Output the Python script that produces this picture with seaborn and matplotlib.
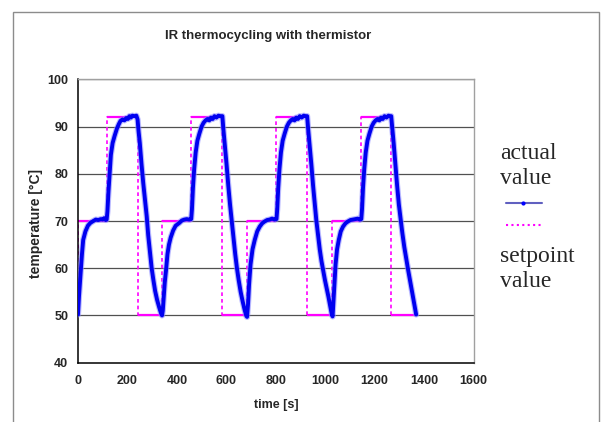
import numpy as np
import pandas as pd
import matplotlib
matplotlib.use("Agg")
import matplotlib.pyplot as plt
from matplotlib.lines import Line2D
from matplotlib.patches import Rectangle
import seaborn as sns

# ---------------- data ----------------
time_s = [0, 4, 11, 16, 21, 30, 40, 50, 62, 72, 82, 92, 100, 106, 112, 116,
          119, 123, 128, 133, 140, 148, 157, 165, 172, 180, 188, 195, 202, 208, 214, 220, 228, 236, 241,
          245, 250, 257, 264, 271, 278, 284, 291, 298, 305, 312, 320, 328, 335, 340,
          343, 347, 351, 356, 362, 368, 375, 385, 395, 410, 420, 430, 440, 450, 458,
          461, 465, 470, 476, 483, 491, 500, 508, 516, 524, 531, 538, 545, 552, 560, 568, 576, 584,
          588, 594, 601, 608, 615, 622, 629, 636, 643, 650, 658, 666, 674, 681, 684,
          688, 692, 698, 706, 715, 725, 735, 745, 755, 765, 775, 785, 795, 803,
          806, 810, 815, 821, 828, 836, 845, 853, 861, 869, 876, 883, 890, 897, 905, 913, 921, 927,
          931, 937, 944, 951, 958, 964, 971, 978, 985, 992, 999, 1006, 1013, 1020, 1026, 1030,
          1033, 1037, 1042, 1048, 1055, 1063, 1072, 1082, 1092, 1102, 1112, 1122, 1132, 1140, 1146,
          1149, 1153, 1158, 1164, 1171, 1179, 1188, 1196, 1204, 1212, 1219, 1226, 1233, 1240, 1248, 1256, 1262, 1267,
          1271, 1277, 1284, 1291, 1298, 1305, 1312, 1320, 1328, 1336, 1344, 1352, 1360, 1368]
temp_actual = [50.2, 54, 59.4, 63, 66, 67.8, 69, 69.6, 70.0, 70.3, 70.2, 70.4, 70.3, 70.6, 70.2, 70.3,
               72, 76, 80, 84, 86.5, 88, 89.5, 90.5, 91.2, 91.5, 91.3, 91.8, 91.6, 92.2, 91.9, 92.3, 92.2, 92.3, 91.5,
               89, 86.5, 82, 78, 74.5, 71, 67, 63.5, 60, 57.5, 55.2, 53.3, 51.8, 50.6, 50.0,
               51, 54, 57, 59.5, 63, 65, 66.5, 68, 69, 69.6, 70.1, 70.3, 70.4, 70.3, 70.4,
               72.5, 77, 81, 84.5, 87, 88.5, 90, 90.8, 91.3, 91.6, 91.3, 91.9, 91.6, 92.2, 91.9, 92.3, 92.2, 92.2,
               89.5, 86, 82, 77.5, 73.5, 70, 66.5, 63, 60, 57.5, 55, 53, 51.2, 49.9, 49.7,
               52.5, 56.5, 60.8, 64, 66, 67.8, 68.8, 69.5, 69.9, 70.2, 70.3, 70.5, 70.3, 70.4,
               72.5, 77, 81, 84.5, 87, 88.5, 90, 90.8, 91.3, 91.6, 91.3, 91.9, 91.6, 92.2, 91.9, 92.3, 92.2, 92.2,
               89.5, 86, 82, 77.5, 73.5, 70.2, 67, 64, 61.5, 59.5, 57.5, 55.8, 54, 52, 50.4, 49.8,
               52.5, 56.5, 60.8, 64, 66, 67.8, 68.8, 69.5, 69.9, 70.2, 70.3, 70.4, 70.5, 70.3, 70.4,
               72.5, 77, 81, 84.5, 87, 88.5, 90, 90.8, 91.3, 91.6, 91.3, 91.9, 91.6, 92.2, 91.9, 92.3, 92.2, 92.2,
               90, 86.5, 82, 77.5, 73.5, 70.5, 67.5, 64.5, 62, 59.5, 57.2, 54.8, 52.5, 50.2]

set_time = [0, 0, 116, 116, 241, 241, 341, 341, 459, 459, 584, 584, 684, 684,
            803, 803, 927, 927, 1029, 1029, 1146, 1146, 1267, 1267, 1368]
set_temp = [50, 70, 70, 92, 92, 50, 50, 70, 70, 92, 92, 50, 50, 70,
            70, 92, 92, 50, 50, 70, 70, 92, 92, 50, 50]

x_ticks = [0, 200, 400, 600, 800, 1000, 1200, 1400, 1600]
y_ticks = [40, 50, 60, 70, 80, 90, 100]

title = "IR thermocycling with thermistor"
x_label = "time [s]"
y_label = "temperature [°C]"
legend_actual = "actual\nvalue"
legend_set = "setpoint\nvalue"

# ---------------- plot ----------------
sns.set_theme(style="white")
plt.rcParams['font.family'] = ['Liberation Sans', 'DejaVu Sans']

W, H = 601, 422
fig = plt.figure(figsize=(W / 100, H / 100), dpi=100)
ax = fig.add_axes([78 / W, 1 - 362.7 / H, (473.5 - 78) / W, (362.7 - 79.3) / H])

df_act = pd.DataFrame({"t": time_s, "T": temp_actual})
df_set = pd.DataFrame({"t": set_time, "T": set_temp})

for yv in y_ticks[1:]:
    ax.axhline(yv, color="#505050", lw=0.9, zorder=1)

# setpoint: dashed verticals, solid horizontals
sns.lineplot(data=df_set, x="t", y="T", ax=ax, sort=False, estimator=None,
             color="#FF00FF", lw=1.2, linestyle=(0, (2.2, 1.8)), zorder=2)
st = np.array(set_time)
sv = np.array(set_temp)
for i in range(len(st) - 1):
    if sv[i] == sv[i + 1] and st[i + 1] > st[i]:
        ax.hlines(sv[i], st[i], st[i + 1], color="#FF00FF", lw=1.6, zorder=2)

# actual value
sns.lineplot(data=df_act, x="t", y="T", ax=ax, sort=False, estimator=None,
             color="#8A8AFF", lw=4.4, alpha=0.6, zorder=3)
sns.lineplot(data=df_act, x="t", y="T", ax=ax, sort=False, estimator=None,
             color="#0000F0", lw=2.8, zorder=4)

ax.set_xlim(0, 1600)
ax.set_ylim(40, 100)
ax.set_xticks(x_ticks)
ax.set_yticks(y_ticks)
ax.set_xticklabels([str(v) for v in x_ticks], fontsize=9, fontweight="bold")
ax.set_yticklabels([str(v) for v in y_ticks], fontsize=9, fontweight="bold")
ax.tick_params(axis="both", direction="out", length=4, width=1, color="black", pad=3)
ax.tick_params(axis="x", pad=5)
ax.set_xlabel("")
ax.set_ylabel("")
ax.grid(False)
for s in ["left", "bottom"]:
    ax.spines[s].set_color("black")
    ax.spines[s].set_linewidth(1.1)
for s in ["top", "right"]:
    ax.spines[s].set_color("#A0A0A0")
    ax.spines[s].set_linewidth(1.0)
ax.set_facecolor("white")

fig.text(276 / W, 1 - 405 / H, x_label, ha="center", va="center",
         fontsize=9, fontweight="bold")
fig.text(36 / W, 1 - 224 / H, y_label, ha="center", va="center", rotation=90,
         fontsize=10, fontweight="bold")
fig.text(268 / W, 1 - 36 / H, title, ha="center", va="center",
         fontsize=9.5, fontweight="bold")

# legend (manual, Excel-like)
serif = ["Liberation Serif", "DejaVu Serif"]
fig.text(500 / W, 1 - 166 / H, legend_actual, ha="left", va="center",
         fontsize=17, family=serif, linespacing=1.2)
fig.add_artist(Line2D([505.5 / W, 541.5 / W], [1 - 203 / H, 1 - 203 / H],
                      transform=fig.transFigure, color="#6060C0", lw=1.5))
fig.add_artist(Line2D([523 / W], [1 - 203 / H], transform=fig.transFigure,
                      color="#0000FF", marker="o", markersize=2, lw=0))
fig.add_artist(Line2D([505.5 / W, 541.5 / W], [1 - 225 / H, 1 - 225 / H],
                      transform=fig.transFigure, color="#FF00FF", lw=1.5,
                      linestyle=(0, (1, 1.6))))
fig.text(500 / W, 1 - 269 / H, legend_set, ha="left", va="center",
         fontsize=17, family=serif, linespacing=1.2)

# outer chart border
fig.add_artist(Rectangle((13 / W, -0.02), (599 - 13) / W, (1 - 12 / H) + 0.02,
                         transform=fig.transFigure, fill=False, edgecolor="#8C8C8C", lw=1.0))

fig.savefig("out.png", dpi=100)
